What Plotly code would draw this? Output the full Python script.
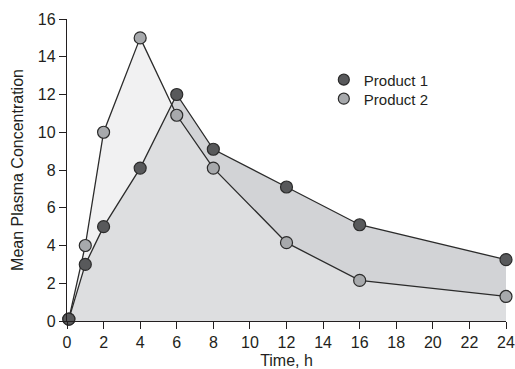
import plotly.graph_objects as go

time_h = [0.1, 1, 2, 4, 6, 8, 12, 16, 24]
product1 = [0.1, 3.0, 5.0, 8.1, 12.0, 9.1, 7.1, 5.1, 3.25]
product2 = [0.1, 4.0, 10.0, 15.0, 10.9, 8.1, 4.15, 2.15, 1.3]
x_ticks = list(range(0, 25, 2))
y_ticks = list(range(0, 17, 2))

edge = "#2b2b2b"
c1 = "#58595b"
c2 = "#a7a9ac"

fig = go.Figure()
# fills
fig.add_trace(go.Scatter(x=time_h, y=product1, mode="none", fill="tozeroy",
                         fillcolor="rgb(210,211,214)", showlegend=False, hoverinfo="skip"))
fig.add_trace(go.Scatter(x=time_h, y=product2, mode="none", fill="tozeroy",
                         fillcolor="rgba(230,230,232,0.56)", showlegend=False, hoverinfo="skip"))
# lines + markers
fig.add_trace(go.Scatter(x=time_h, y=product2, mode="lines+markers", showlegend=False,
                         line=dict(color=edge, width=1.3),
                         marker=dict(size=12, color=c2, line=dict(color=edge, width=1.2)),
                         cliponaxis=False))
fig.add_trace(go.Scatter(x=time_h, y=product1, mode="lines+markers", showlegend=False,
                         line=dict(color=edge, width=1.3),
                         marker=dict(size=12, color=c1, line=dict(color=edge, width=1.2)),
                         cliponaxis=False))
# legend entries (markers only)
fig.add_trace(go.Scatter(x=[None], y=[None], mode="markers", name="Product 1", legend="legend",
                         marker=dict(size=11, color=c1, line=dict(color=edge, width=1.2))))
fig.add_trace(go.Scatter(x=[None], y=[None], mode="markers", name="Product 2", legend="legend2",
                         marker=dict(size=11, color=c2, line=dict(color=edge, width=1.2))))

font = "Liberation Sans, Arial, sans-serif"
leg_common = dict(xanchor="left", yanchor="top", font=dict(size=15),
                  bgcolor="rgba(0,0,0,0)", itemwidth=30)
fig.update_layout(
    width=515, height=369,
    margin=dict(l=67, r=9, t=19, b=48, autoexpand=False),
    plot_bgcolor="white", paper_bgcolor="white",
    font=dict(family=font, size=16, color="#231f20"),
    showlegend=True,
    legend=dict(x=0.585, y=0.853, **leg_common),
    legend2=dict(x=0.585, y=0.790, **leg_common),
    xaxis=dict(range=[0, 24], tickvals=x_ticks, showgrid=False, zeroline=False,
               showline=True, linecolor="#231f20", linewidth=1.3, automargin=False,
               ticks="outside", ticklen=7, tickcolor="#231f20",
               tickfont=dict(size=16),
               title=dict(text="Time, h", standoff=4, font=dict(size=16))),
    yaxis=dict(range=[0, 16], tickvals=y_ticks, showgrid=False, zeroline=False,
               showline=True, linecolor="#231f20", linewidth=1.3, automargin=False,
               ticks="outside", ticklen=7, tickcolor="#231f20",
               tickfont=dict(size=16),
               title=dict(text="Mean Plasma Concentration", standoff=10, font=dict(size=16))),
)
fig.write_html("out.html", config={"displayModeBar": False},
               post_script="document.body.style.margin='0';document.body.style.overflow='hidden';")
